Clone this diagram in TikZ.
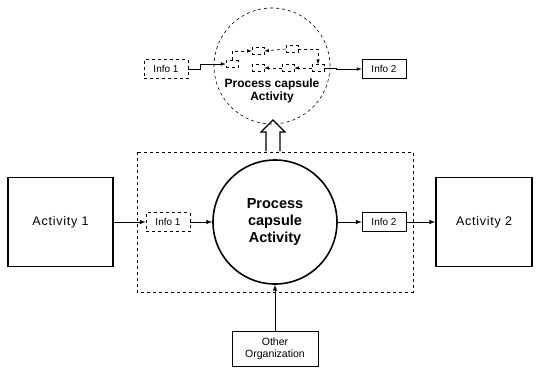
\documentclass[tikz,border=0pt]{standalone}
\usepackage{fontspec}
\setmainfont{Liberation Sans}

\tikzset{
  actbox/.style={draw, line width=1.6pt, minimum width=105pt, minimum height=89pt, font=\fontsize{12.5}{15}\selectfont\addfontfeatures{LetterSpace=6}},
  infobox/.style={draw, line width=0.7pt, minimum width=44pt, minimum height=19pt, inner sep=1pt, font=\fontsize{10}{11}\selectfont},
  dashbox/.style={infobox, dashed},
  capsule/.style={draw, circle, line width=1.6pt, minimum size=124pt, align=center, font=\bfseries\fontsize{14.5}{17}\selectfont},
  subbox/.style={draw, dashed, line width=0.5pt, minimum width=12pt, minimum height=7pt, inner sep=0pt},
  flow/.style={-latex, line width=1pt},
  subflow/.style={-latex, dashed, line width=0.6pt},
}

\begin{document}
\begin{tikzpicture}[x=1pt, y=-1pt]
\useasboundingbox (0,0) rectangle (540,368);

% Top: the capsule seen from inside
\node[draw, circle, dashed, line width=0.6pt, minimum size=116pt] (capt) at (272,66) {};
\node[font=\bfseries\fontsize{12}{13}\selectfont, align=center] (capl) at (272,91) {Process capsule\\Activity};
\node[dashbox] (i1t) at (166,69) {Info 1};
\node[infobox] (i2t) at (384,69) {Info 2};

\node[subbox] (s1) at (232,64) {};
\node[subbox] (s2) at (258,51) {};
\node[subbox] (s3) at (292,49) {};
\node[subbox] (s4) at (258,68) {};
\node[subbox] (s5) at (288,68) {};
\node[subbox] (s6) at (318,68) {};

\draw[flow, line width=0.7pt] (i1t.east) -- ++(12,0) |- (s1.west);
\draw[subflow] (s1.north) |- (s2.west);
\draw[subflow] (s3.west) -- (s2.east);
\draw[subflow] (s3.east) -| (s6.north);
\draw[subflow] (s5.west) -- (s4.east);
\draw[subflow] (s6.west) -- (s5.east);
\draw[flow, line width=0.7pt] (s6.east) -- ++(12,0) |- (i2t.west);

% block arrow up
\draw[line width=1.2pt] (266,151) -- (266,132) -- (261,132) -- (273,120) -- (285,132) -- (280,132) -- (280,151);

% Main row
\draw[dashed, line width=0.6pt] (137,152) rectangle (413,292);

\node[actbox] (act1) at (60.5,222) {Activity 1};
\node[dashbox] (i1) at (168,222) {Info 1};
\node[capsule] (cap) at (275,222) {Process\\capsule\\Activity};
\node[infobox] (i2) at (384,222) {Info 2};
\node[actbox, minimum width=96pt] (act2) at (484,222) {Activity 2};
\node[infobox, minimum width=86pt, minimum height=35pt, align=center, font=\fontsize{10.5}{12}\selectfont] (org) at (275,348.5) {Other\\Organization};

\draw[flow] (act1) -- (i1);
\draw[flow] (i1) -- (cap);
\draw[flow] (cap) -- (i2);
\draw[flow] (i2) -- (act2);
\draw[flow] (org) -- (cap);
\end{tikzpicture}
\end{document}
